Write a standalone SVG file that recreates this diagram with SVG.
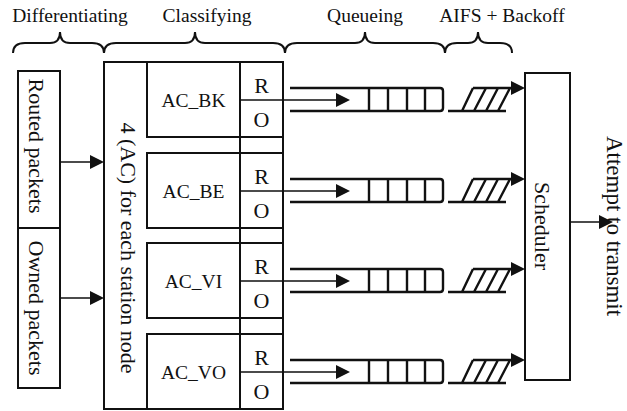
<svg xmlns="http://www.w3.org/2000/svg" xmlns:xlink="http://www.w3.org/1999/xlink" width="627" height="411" viewBox="0 0 627 411" font-family="'Liberation Serif', 'DejaVu Serif', 'Times New Roman', serif">
<style>
text{font-family:'Liberation Serif','DejaVu Serif','Times New Roman',serif;fill:#111}
.lbl{font-size:19.5px;text-anchor:middle}
.ac{font-size:19.5px;text-anchor:middle}
.ro{font-size:22px;text-anchor:middle}
.vt{font-size:22px;text-anchor:middle}
.box{fill:#fff;stroke:#111;stroke-width:2}
.ln{fill:none;stroke:#111;stroke-width:1.6}
.q{fill:none;stroke:#111;stroke-width:2.4}
.br{fill:none;stroke:#111;stroke-width:2}
.ah{fill:#111}
</style>
<defs>
<path id="ah" d="M0,0 L-14,-7 L-14,7 Z"/>
<g id="queue">
<path d="M290,-12 H440 Q443,-12 443,-9 V8 Q443,11 440,11 H290 M369,-12 V11 M388,-12 V11 M407,-12 V11 M425,-12 V11"/>
</g>
<g id="hatch">
<path d="M448,11 H506 M462,11 L473,-12 M474,11 L486,-12 M486,11 L498,-12 M498,11 L510,-12 M473,-12 H512"/>
</g>
</defs>
<rect width="627" height="411" fill="#fff"/>

<g id="labels">
<text class="lbl" x="70" y="22">Differentiating</text>
<text class="lbl" x="207" y="22">Classifying</text>
<text class="lbl" x="365" y="22">Queueing</text>
<text class="lbl" x="502" y="22">AIFS + Backoff</text>
<path class="br" d="M13,53 C13,46 17,43 25,43 L50,43 C56,43 60,40 60,32 C60,40 64,43 70,43 L92,43 C100,43 104,46 104,53"/>
<path class="br" d="M104,53 C104,46 108,43 116,43 L185,43 C191,43 195,40 195,32 C195,40 199,43 205,43 L273,43 C281,43 285,46 285,53"/>
<path class="br" d="M285,53 C285,46 289,43 297,43 L355,43 C361,43 365,40 365,32 C365,40 369,43 375,43 L433,43 C441,43 445,46 445,53"/>
<path class="br" d="M445,53 C445,46 449,43 457,43 L468,43 C474,43 478,40 478,32 C478,40 482,43 488,43 L500,43 C508,43 512,46 512,53"/>
</g>

<g id="routed">
<rect class="box" x="18" y="71" width="42" height="157"/>
<text class="vt" transform="translate(29,146) rotate(90)">Routed packets</text>
</g>
<g id="owned">
<rect class="box" x="18" y="228" width="42" height="160"/>
<text class="vt" transform="translate(29,308) rotate(90)">Owned packets</text>
</g>

<g id="classifier">
<rect class="box" x="104" y="62" width="179" height="347"/>
<text class="vt" transform="translate(121,248) rotate(90)">4 (AC) for each station node</text>
</g>
<g id="ac_bk">
<rect class="box" x="147" y="62" width="136" height="75"/>
<text class="ac" x="193.5" y="107">AC_BK</text>
<text class="ro" x="261.5" y="93">R</text>
<text class="ro" x="261.5" y="127">O</text>
</g>
<g id="ac_be">
<rect class="box" x="147" y="153" width="136" height="75"/>
<text class="ac" x="193.5" y="198">AC_BE</text>
<text class="ro" x="261.5" y="184">R</text>
<text class="ro" x="261.5" y="218">O</text>
</g>
<g id="ac_vi">
<rect class="box" x="147" y="243" width="136" height="75"/>
<text class="ac" x="193.5" y="288">AC_VI</text>
<text class="ro" x="261.5" y="274">R</text>
<text class="ro" x="261.5" y="308">O</text>
</g>
<g id="ac_vo">
<rect class="box" x="147" y="334" width="136" height="75"/>
<text class="ac" x="193.5" y="379">AC_VO</text>
<text class="ro" x="261.5" y="365">R</text>
<text class="ro" x="261.5" y="399">O</text>
</g>
<path class="box" d="M240,62 V409" fill="none"/>

<g id="queues" class="q">
<use xlink:href="#queue" transform="translate(0,100)"/>
<use xlink:href="#queue" transform="translate(0,191)"/>
<use xlink:href="#queue" transform="translate(0,281)"/>
<use xlink:href="#queue" transform="translate(0,372)"/>
</g>
<g id="backoff" class="q">
<use xlink:href="#hatch" transform="translate(0,100)"/>
<use xlink:href="#hatch" transform="translate(0,191)"/>
<use xlink:href="#hatch" transform="translate(0,281)"/>
<use xlink:href="#hatch" transform="translate(0,372)"/>
</g>

<g id="scheduler">
<rect class="box" x="525" y="73" width="45" height="307"/>
<text class="vt" transform="translate(535,226) rotate(90)">Scheduler</text>
</g>
<text font-size="23" text-anchor="middle" transform="translate(607,226) rotate(90)">Attempt to transmit</text>

<g id="connectors">
<path class="ln" d="M60,162 H92 M60,298 H92 M240,100 H338 M240,191 H338 M240,281 H338 M240,372 H338 M570,222 H601"/>
<g class="ah">
<use xlink:href="#ah" transform="translate(104,162)"/>
<use xlink:href="#ah" transform="translate(104,298)"/>
<use xlink:href="#ah" transform="translate(350,100)"/>
<use xlink:href="#ah" transform="translate(350,191)"/>
<use xlink:href="#ah" transform="translate(350,281)"/>
<use xlink:href="#ah" transform="translate(350,372)"/>
<use xlink:href="#ah" transform="translate(525,88)"/>
<use xlink:href="#ah" transform="translate(525,179)"/>
<use xlink:href="#ah" transform="translate(525,269)"/>
<use xlink:href="#ah" transform="translate(525,360)"/>
<use xlink:href="#ah" transform="translate(613,222)"/>
</g>
</g>
</svg>
